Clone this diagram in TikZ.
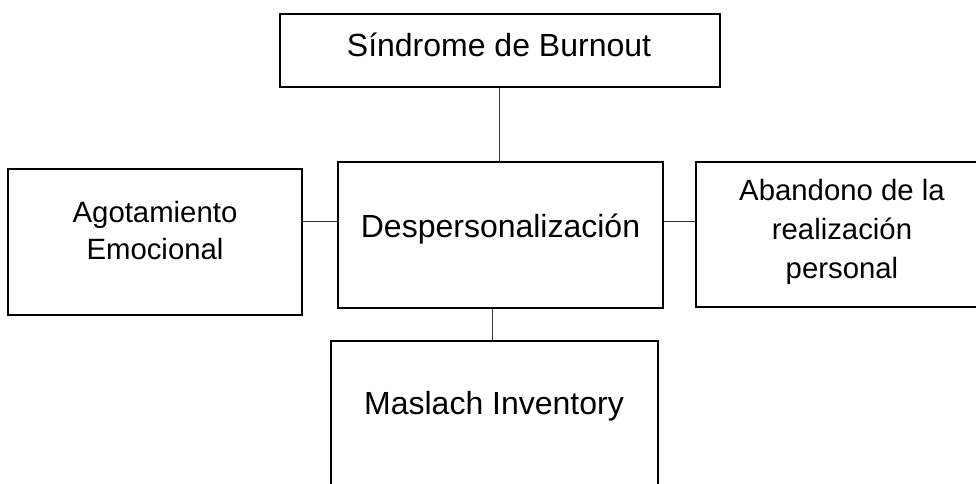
\documentclass[tikz,border=0pt]{standalone}
\usepackage{fontspec}
\setmainfont{Liberation Sans}
\begin{document}
\begin{tikzpicture}[x=0.75pt,y=-0.75pt,
  box/.style={draw=black,line width=1.5pt,rectangle,inner sep=0pt,fill=white},
  conn/.style={draw=black!80,line width=0.75pt},
  big/.style={inner sep=0pt,anchor=base,font=\fontsize{24}{29}\selectfont},
  small/.style={inner sep=0pt,anchor=base,align=center,font=\fontsize{22}{27.5}\selectfont}]
\useasboundingbox (0,0) rectangle (976,483);
\clip (0,0) rectangle (976,483);
\fill[white] (0,0) rectangle (976,483);
% boxes
\node[box,minimum width=440*0.75pt,minimum height=73*0.75pt] (burn) at (500,50.5) {};
\node[box,minimum width=325*0.75pt,minimum height=146*0.75pt] (desp) at (500.5,235) {};
\node[box,minimum width=294*0.75pt,minimum height=146*0.75pt] (agot) at (155,242) {};
\node[box,minimum width=292*0.75pt,minimum height=145*0.75pt] (aban) at (842,234.5) {};
\node[box,minimum width=327*0.75pt,minimum height=150*0.75pt] (masl) at (494.5,416) {};
% texts
\node[big] (tburn) at (499,56.7) {Síndrome de Burnout};
\node[big] (tdesp) at (500.5,237.7) {Despersonalización};
\node[big] (tmasl) at (494,414) {Maslach Inventory};
\node[small] (tagot) at (155,259.3) {Agotamiento\\Emocional};
\node[small,font=\fontsize{22}{29.25}\selectfont] (taban) at (842,278.3) {Abandono de la\\realización\\personal};
% connector helpers
\coordinate (cy) at (0,221);
\coordinate (cx1) at (499,0);
\coordinate (cx2) at (492,0);
% connectors
\draw[conn] (burn.south -| cx1) -- (desp.north -| cx1);
\draw[conn] (agot.east |- cy) -- (desp.west |- cy);
\draw[conn] (desp.east |- cy) -- (aban.west |- cy);
\draw[conn] (desp.south -| cx2) -- (masl.north -| cx2);
\end{tikzpicture}
\end{document}
